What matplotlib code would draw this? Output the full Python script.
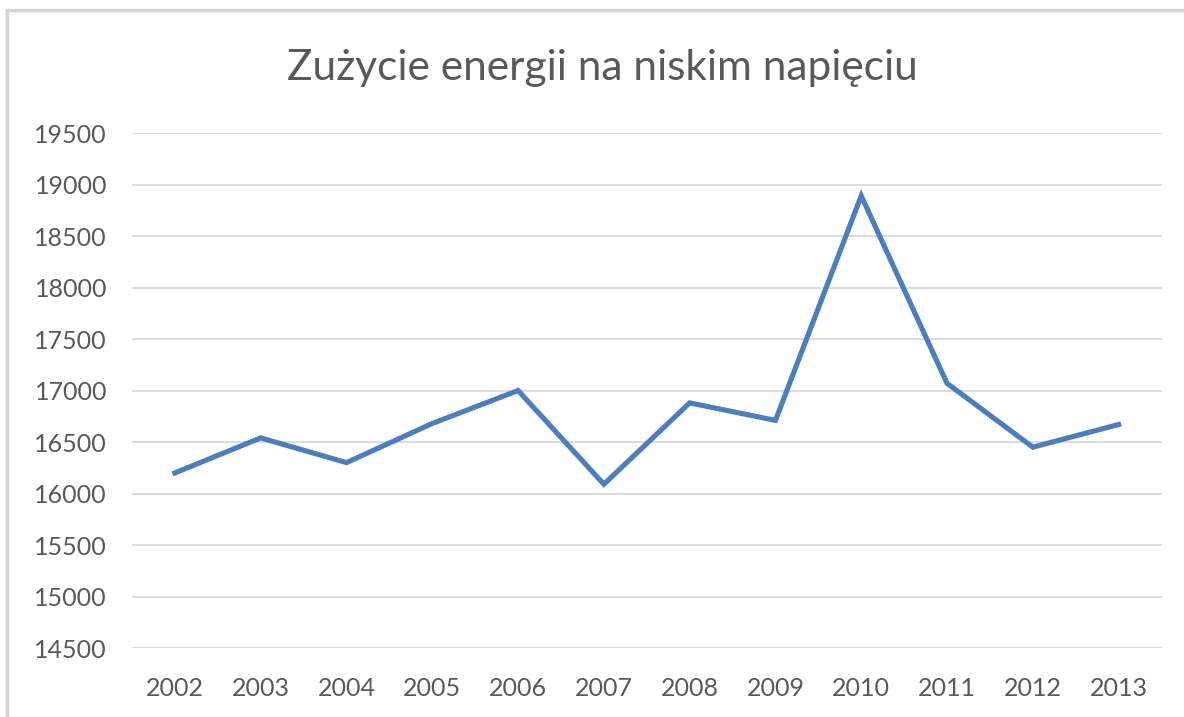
import matplotlib.pyplot as plt
from matplotlib.lines import Line2D

# data
years = ['2002', '2003', '2004', '2005', '2006', '2007',
         '2008', '2009', '2010', '2011', '2012', '2013']
usage = [16200, 16540, 16300, 16680, 17000, 16090,
         16880, 16710, 18890, 17070, 16450, 16670]
y_ticks = [14500, 15000, 15500, 16000, 16500, 17000, 17500, 18000, 18500, 19000, 19500]

plt.rcParams['font.family'] = ['Lato', 'DejaVu Sans']
text_gray = '#595959'

fig = plt.figure(figsize=(11.84, 7.17), dpi=100)
ax = fig.add_axes([0.1115, 0.0962, 0.8695, 0.7183])

x = list(range(len(years)))
ax.plot(x, usage, color='#4a7ebf', linewidth=3.7, solid_joinstyle='miter', zorder=3)

ax.set_xlim(-0.5, len(years) - 0.5)
ax.set_ylim(14500, 19500)
ax.set_yticks(y_ticks)
ax.set_xticks(x)
ax.set_xticklabels(years)
ax.grid(axis='y', color='#d9d9d9', linewidth=1.3)
ax.set_axisbelow(True)
for s in ax.spines.values():
    s.set_visible(False)
ax.tick_params(length=0, labelsize=18, colors=text_gray)
ax.tick_params(axis='x', pad=21)
ax.tick_params(axis='y', pad=18)

fig.text(0.509, 0.905, 'Zużycie energii na niskim napięciu', ha='center', va='center',
         fontsize=30.5, color=text_gray)

# light frame from the screenshot (top and left edges only)
fig.add_artist(Line2D([0.006, 0.006], [0, 0.986], transform=fig.transFigure,
                      color='#d4d4d4', linewidth=2.5))
fig.add_artist(Line2D([0.006, 1], [0.986, 0.986], transform=fig.transFigure,
                      color='#d4d4d4', linewidth=2.5))

fig.savefig('out.png', dpi=100)
